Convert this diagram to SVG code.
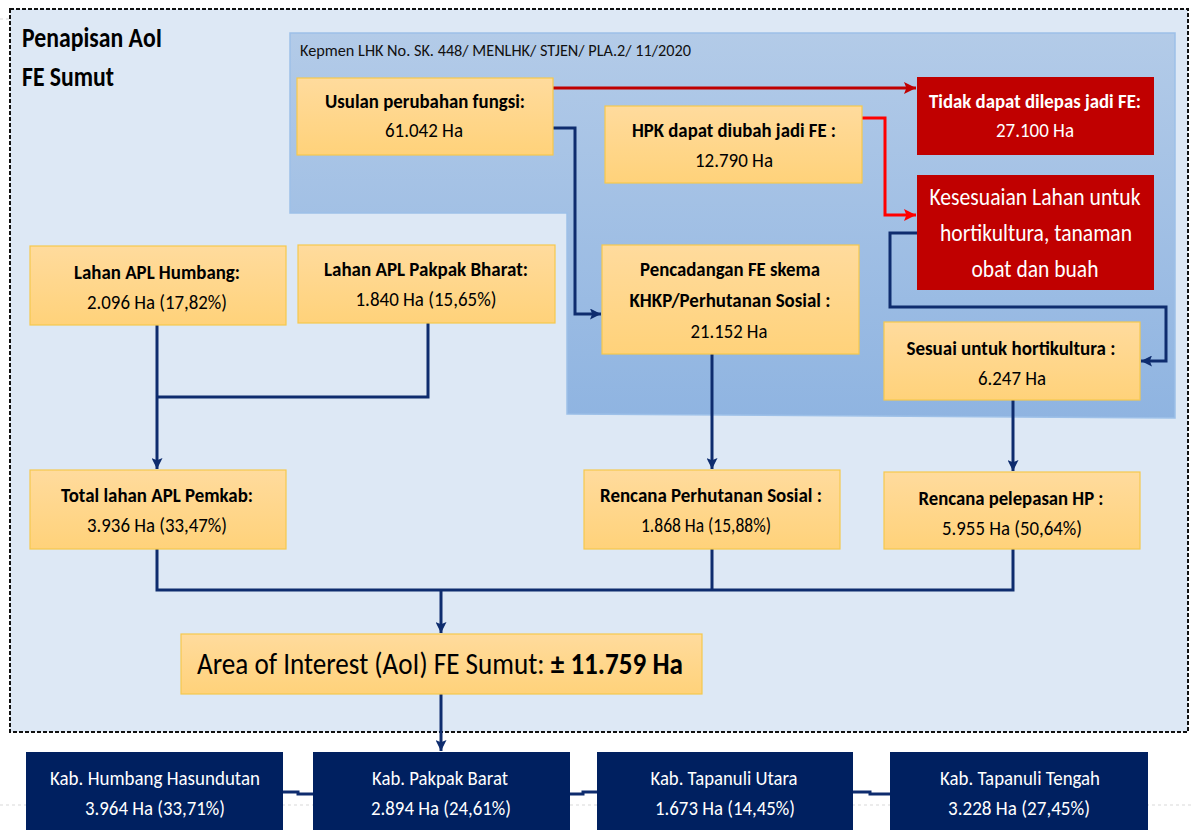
<svg xmlns="http://www.w3.org/2000/svg" width="1191" height="830" viewBox="0 0 1191 830">
  <defs>
    <linearGradient id="gold" x1="0" y1="0" x2="0" y2="1">
      <stop offset="0" stop-color="#FFDB9D"/>
      <stop offset="1" stop-color="#FFD27A"/>
    </linearGradient>
    <linearGradient id="zone" x1="0" y1="0" x2="0" y2="1">
      <stop offset="0" stop-color="#B3CBE8"/>
      <stop offset="1" stop-color="#8FB4E1"/>
    </linearGradient>
    <marker id="navyHead" viewBox="0 0 10 10" refX="10" refY="5" markerWidth="11" markerHeight="11" markerUnits="userSpaceOnUse" orient="auto">
      <path d="M0,0 L10,5 L0,10 L2,5 z" fill="#0E2C6E"/>
    </marker>
    <marker id="darkRedHead" viewBox="0 0 10 10" refX="10" refY="5" markerWidth="12" markerHeight="12" markerUnits="userSpaceOnUse" orient="auto">
      <path d="M0,0 L10,5 L0,10 L2,5 z" fill="#C00000"/>
    </marker>
    <marker id="redHead" viewBox="0 0 10 10" refX="10" refY="5" markerWidth="12" markerHeight="12" markerUnits="userSpaceOnUse" orient="auto">
      <path d="M0,0 L10,5 L0,10 L2,5 z" fill="#FF0000"/>
    </marker>
  </defs>
  <style>
    text { font-family: "Carlito", "Liberation Sans Narrow", "Liberation Sans", Arial, sans-serif; }
    .box { fill: url(#gold); stroke: #F6C84E; stroke-width: 1.2; }
    .red { fill: #C00000; }
    .navy { fill: #002060; }
    .b { font-weight: bold; font-size: 21px; fill: #000; text-anchor: middle; }
    .r { font-size: 21px; fill: #000; text-anchor: middle; }
    .wb { font-weight: bold; font-size: 21px; fill: #fff; text-anchor: middle; }
    .wr { font-size: 21px; fill: #fff; text-anchor: middle; }
    .wl { font-size: 25px; fill: #fff; text-anchor: middle; }
    .ws { font-size: 20px; fill: #fff; text-anchor: middle; }
    .link { fill: none; stroke: #0E2C6E; stroke-width: 3; }
    .link-dr { fill: none; stroke: #C00000; stroke-width: 3; }
    .link-r { fill: none; stroke: #FF0000; stroke-width: 3; }
  </style>

  <rect width="1191" height="830" fill="#FFFFFF"/>
  <!-- faint slide guide -->
  <line x1="0" y1="805" x2="1191" y2="805" stroke="#D9D9D9" stroke-width="1" stroke-dasharray="3 3"/>
  <line x1="0" y1="19" x2="10" y2="19" stroke="#D9D9D9" stroke-width="1" stroke-dasharray="3 3"/>

  <!-- screening frame -->
  <g id="frame">
    <rect x="10" y="9" width="1178" height="723" fill="#DDE8F5" stroke="#111" stroke-width="2" stroke-dasharray="4 2"/>
    <text x="22" y="47" font-size="28" font-weight="bold" fill="#000" textLength="140" lengthAdjust="spacingAndGlyphs">Penapisan AoI</text>
    <text x="22" y="86" font-size="28" font-weight="bold" fill="#000" textLength="92" lengthAdjust="spacingAndGlyphs">FE Sumut</text>
  </g>

  <!-- decree zone -->
  <g id="kepmen">
    <path d="M290,33 H1175 V418 L567,414 V213 H290 Z" fill="url(#zone)" stroke="#9DC0E8" stroke-width="1.5"/>
    <text x="300" y="56" font-size="17" fill="#111" textLength="391" lengthAdjust="spacingAndGlyphs">Kepmen LHK No. SK. 448/ MENLHK/ STJEN/ PLA.2/ 11/2020</text>
  </g>

  <!-- connectors -->
  <g id="connectors">
    <path class="link-dr" d="M553,88 H916" marker-end="url(#darkRedHead)"/>
    <path class="link-r" d="M862,118 H885 V215 H916" marker-end="url(#redHead)"/>
    <path class="link" d="M553,128 H575 V314 H601" marker-end="url(#navyHead)"/>
    <path class="link" d="M917,233 H890 V307 H1166 V361 H1141" marker-end="url(#navyHead)"/>
    <path class="link" d="M712,354 V469" marker-end="url(#navyHead)"/>
    <path class="link" d="M1013,400 V471" marker-end="url(#navyHead)"/>
    <path class="link" d="M428,323 V397 H157"/>
    <path class="link" d="M157,325 V469" marker-end="url(#navyHead)"/>
    <path class="link" d="M157,549 V590 H1013 V549"/>
    <path class="link" d="M712,549 V590"/>
    <path class="link" d="M441,590 V633" marker-end="url(#navyHead)"/>
    <path class="link" d="M441,694 V751" marker-end="url(#navyHead)"/>
    <path class="link" d="M283,792 H298 V794 H313"/>
    <path class="link" d="M570,794 H583 V792 H597"/>
    <path class="link" d="M853,792 H870 V794 H890"/>
  </g>

  <g id="usulan">
    <rect class="box" x="297" y="78" width="256" height="77"/>
    <text class="b" x="425" y="108" textLength="200" lengthAdjust="spacingAndGlyphs">Usulan perubahan fungsi:</text>
    <text class="r" x="424" y="137" textLength="78" lengthAdjust="spacingAndGlyphs">61.042 Ha</text>
  </g>

  <g id="hpk">
    <rect class="box" x="605" y="106" width="257" height="77"/>
    <text class="b" x="734" y="137" textLength="204" lengthAdjust="spacingAndGlyphs">HPK dapat diubah jadi FE :</text>
    <text class="r" x="734" y="167" textLength="78" lengthAdjust="spacingAndGlyphs">12.790 Ha</text>
  </g>

  <g id="tidak-dilepas">
    <rect class="red" x="917" y="77" width="237" height="78"/>
    <text class="wb" x="1035" y="108" textLength="212" lengthAdjust="spacingAndGlyphs">Tidak dapat dilepas jadi FE:</text>
    <text class="wr" x="1035" y="137" textLength="78" lengthAdjust="spacingAndGlyphs">27.100 Ha</text>
  </g>

  <g id="kesesuaian">
    <rect class="red" x="917" y="175" width="237" height="115"/>
    <text class="wl" x="1035" y="205" textLength="211" lengthAdjust="spacingAndGlyphs">Kesesuaian Lahan untuk</text>
    <text class="wl" x="1036" y="241" textLength="192" lengthAdjust="spacingAndGlyphs">hortikultura, tanaman</text>
    <text class="wl" x="1035" y="277" textLength="127" lengthAdjust="spacingAndGlyphs">obat dan buah</text>
  </g>

  <g id="apl-humbang">
    <rect class="box" x="30" y="246" width="256" height="79"/>
    <text class="b" x="157" y="279" textLength="166" lengthAdjust="spacingAndGlyphs">Lahan APL Humbang:</text>
    <text class="r" x="157" y="309" textLength="140" lengthAdjust="spacingAndGlyphs">2.096 Ha (17,82%)</text>
  </g>

  <g id="apl-pakpak">
    <rect class="box" x="298" y="245" width="257" height="78"/>
    <text class="b" x="426" y="276" textLength="204" lengthAdjust="spacingAndGlyphs">Lahan APL Pakpak Bharat:</text>
    <text class="r" x="426" y="306" textLength="141" lengthAdjust="spacingAndGlyphs">1.840 Ha (15,65%)</text>
  </g>

  <g id="pencadangan">
    <rect class="box" x="602" y="245" width="257" height="109"/>
    <text class="b" x="730" y="276" textLength="180" lengthAdjust="spacingAndGlyphs">Pencadangan FE skema</text>
    <text class="b" x="730" y="307" textLength="201" lengthAdjust="spacingAndGlyphs">KHKP/Perhutanan Sosial :</text>
    <text class="r" x="729" y="338" textLength="77" lengthAdjust="spacingAndGlyphs">21.152 Ha</text>
  </g>

  <g id="sesuai">
    <rect class="box" x="884" y="322" width="256" height="78"/>
    <text class="b" x="1011" y="355" textLength="209" lengthAdjust="spacingAndGlyphs">Sesuai untuk hortikultura :</text>
    <text class="r" x="1012" y="385" textLength="68" lengthAdjust="spacingAndGlyphs">6.247 Ha</text>
  </g>

  <g id="total-apl">
    <rect class="box" x="30" y="470" width="256" height="79"/>
    <text class="b" x="157" y="502" textLength="192" lengthAdjust="spacingAndGlyphs">Total lahan APL Pemkab:</text>
    <text class="r" x="157" y="532" textLength="140" lengthAdjust="spacingAndGlyphs">3.936 Ha (33,47%)</text>
  </g>

  <g id="rencana-ps">
    <rect class="box" x="584" y="470" width="256" height="79"/>
    <text class="b" x="711" y="502" textLength="222" lengthAdjust="spacingAndGlyphs">Rencana Perhutanan Sosial :</text>
    <text class="r" x="706" y="532" textLength="130" lengthAdjust="spacingAndGlyphs">1.868 Ha (15,88%)</text>
  </g>

  <g id="rencana-hp">
    <rect class="box" x="884" y="472" width="256" height="77"/>
    <text class="b" x="1011" y="505" textLength="185" lengthAdjust="spacingAndGlyphs">Rencana pelepasan HP :</text>
    <text class="r" x="1012" y="535" textLength="140" lengthAdjust="spacingAndGlyphs">5.955 Ha (50,64%)</text>
  </g>

  <g id="aoi">
    <rect class="box" x="181" y="634" width="521" height="60"/>
    <text x="197" y="674" font-size="31" fill="#000" textLength="486" lengthAdjust="spacingAndGlyphs">Area of Interest (AoI) FE Sumut: <tspan font-weight="bold">± 11.759 Ha</tspan></text>
  </g>

  <g id="kab-humbang">
    <rect class="navy" x="26" y="752" width="257" height="78"/>
    <text class="ws" x="155" y="785" textLength="210" lengthAdjust="spacingAndGlyphs">Kab. Humbang Hasundutan</text>
    <text class="ws" x="155" y="815" textLength="140" lengthAdjust="spacingAndGlyphs">3.964 Ha (33,71%)</text>
  </g>

  <g id="kab-pakpak">
    <rect class="navy" x="313" y="752" width="257" height="78"/>
    <text class="ws" x="440" y="785" textLength="136" lengthAdjust="spacingAndGlyphs">Kab. Pakpak Barat</text>
    <text class="ws" x="441" y="815" textLength="140" lengthAdjust="spacingAndGlyphs">2.894 Ha (24,61%)</text>
  </g>

  <g id="kab-taput">
    <rect class="navy" x="597" y="752" width="256" height="78"/>
    <text class="ws" x="724" y="785" textLength="147" lengthAdjust="spacingAndGlyphs">Kab. Tapanuli Utara</text>
    <text class="ws" x="725" y="815" textLength="140" lengthAdjust="spacingAndGlyphs">1.673 Ha (14,45%)</text>
  </g>

  <g id="kab-tapteng">
    <rect class="navy" x="890" y="752" width="258" height="78"/>
    <text class="ws" x="1020" y="785" textLength="160" lengthAdjust="spacingAndGlyphs">Kab. Tapanuli Tengah</text>
    <text class="ws" x="1019" y="815" textLength="142" lengthAdjust="spacingAndGlyphs">3.228 Ha (27,45%)</text>
  </g>
</svg>
